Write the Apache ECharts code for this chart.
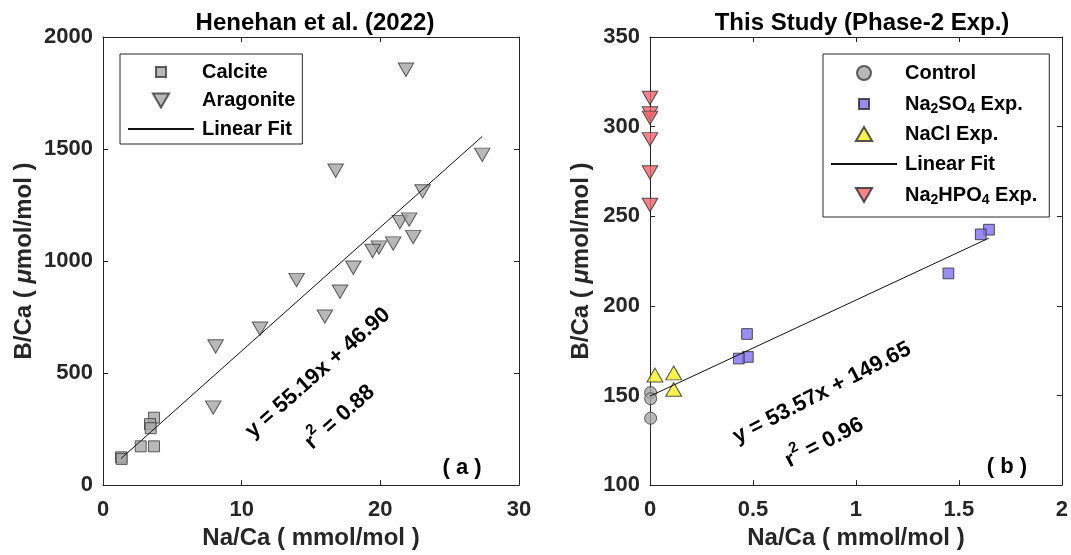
<!DOCTYPE html>
<html><head><meta charset="utf-8">
<script src="https://cdn.jsdelivr.net/npm/echarts@6/dist/echarts.min.js"></script>
<style>html,body{margin:0;padding:0;background:#fff}#c{width:1071px;height:555px}</style>
</head><body><div id="c"></div>
<script>
// ---- Data ----
const calciteX = [3.68, 3.39, 3.44, 2.72, 3.68, 1.30, 1.35];
const calciteY = [301, 272, 254, 173, 173, 124, 117];
const aragoniteX = [21.85, 27.35, 16.78, 23.05, 21.41, 22.08, 22.37, 20.93, 19.90, 19.44, 18.05, 13.96, 17.09, 16.00, 11.32, 8.12, 7.95];
const aragoniteY = [1854, 1474, 1403, 1311, 1174, 1185, 1107, 1078, 1060, 1045, 970, 915, 863, 752, 698, 619, 346];
const fitA = {slope: 55.19, intercept: 46.90, xRange: [1.3, 27.35]};

const controlX = [0.003, 0.003, 0.003];
const controlY = [151.6, 148.2, 137.3];
const so4X = [1.646, 1.606, 1.449, 0.471, 0.475, 0.431];
const so4Y = [242.5, 239.9, 218.1, 184.3, 171.5, 170.6];
const naclX = [0.024, 0.115, 0.115];
const naclY = [161.4, 162.6, 153.4];
const hpo4X = [0, 0, 0, 0, 0, 0];
const hpo4Y = [316.0, 307.3, 304.9, 292.9, 274.4, 256.3];
const fitB = {slope: 53.57, intercept: 149.65, xRange: [0, 1.645]};

const xTicksA = {min: 0, max: 30, interval: 10};
const yTicksA = {min: 0, max: 2000, interval: 500};
const xTicksB = {min: 0, max: 2, interval: 0.5};
const yTicksB = {min: 100, max: 350, interval: 50};

// ---- Helpers ----
const zip = (xs, ys) => xs.map((x, i) => [x, ys[i]]);
const fitLine = f => f.xRange.map(x => [x, f.slope * x + f.intercept]);
const FONT = '"Liberation Sans", Arial, sans-serif';
const AX = '#262626';
// symbols as paths (bounding box padded with move-to points so legend icons keep a sensible size)
const SQUARE = 'path://M-2,-2M12,12M0,0L10,0L10,10L0,10Z';
const DOWN_TRI = 'path://M0,0L10,0L5,8.66Z';
const UP_TRI = 'path://M5,0L10,8.66L0,8.66Z';

function axisPair(gridIndex, t, isX, name, nameGap) {
  const main = {
    type: 'value', gridIndex, min: t.min, max: t.max, interval: t.interval,
    position: isX ? 'bottom' : 'left',
    axisLine: {show: true, onZero: false, lineStyle: {color: AX, width: 1}},
    axisTick: {show: true, inside: true, length: 5, lineStyle: {color: AX}},
    axisLabel: {color: AX, fontFamily: FONT, fontWeight: 'bold', fontSize: 22, margin: isX ? 14 : 10,
      formatter: v => String(v)},
    splitLine: {show: false},
    name: name, nameLocation: 'middle', nameGap: nameGap,
    nameTextStyle: {color: AX, fontFamily: FONT, fontWeight: 'bold', fontSize: 24,
      rich: {i: {fontStyle: 'italic', fontWeight: 'bold', fontFamily: FONT, fontSize: 24, color: AX}}}
  };
  const opp = {
    type: 'value', gridIndex, min: t.min, max: t.max, interval: t.interval,
    position: isX ? 'top' : 'right',
    axisLine: {show: true, onZero: false, lineStyle: {color: AX, width: 1}},
    axisTick: {show: true, inside: true, length: 5, lineStyle: {color: AX}},
    axisLabel: {show: false}, splitLine: {show: false}
  };
  return [main, opp];
}

const chart = echarts.init(document.getElementById('c'));
const subFmt = name => name.replace(/Na2/g, 'Na{s|2}').replace(/O4/g, 'O{s|4}');

const legendText = (lh) => ({
  color: '#000', fontFamily: FONT, fontWeight: 'bold', fontSize: 20, lineHeight: lh, padding: [0, 0, 0, 3],
  rich: {s: {fontFamily: FONT, fontWeight: 'bold', fontSize: 14, lineHeight: lh, verticalAlign: 'bottom', padding: [11, 0, 0, 0], color: '#000'}}
});

const option = {
  animation: false,
  backgroundColor: '#fff',
  grid: [
    {left: 103, top: 37, width: 416, height: 451},
    {left: 650, top: 37, width: 416, height: 451}
  ],
  xAxis: [
    ...axisPair(0, xTicksA, true, 'Na/Ca ( mmol/mol )', 35),
    ...axisPair(1, xTicksB, true, 'Na/Ca ( mmol/mol )', 35)
  ],
  yAxis: [
    ...axisPair(0, yTicksA, false, 'B/Ca ( {i|μ}mol/mol )', 67),
    ...axisPair(1, yTicksB, false, 'B/Ca ( {i|μ}mol/mol )', 57)
  ],
  legend: [
    {
      orient: 'vertical', left: 120, top: 54, padding: [8, 7, 5, 7],
      itemWidth: 66, itemHeight: 14, itemGap: 8.5,
      borderColor: AX, borderWidth: 1, backgroundColor: '#fff',
      data: ['Calcite', 'Aragonite', 'Linear Fit'],
      textStyle: legendText(20), selectedMode: false
    },
    {
      orient: 'vertical', left: 823, top: 54, padding: [7, 12, 10, 7],
      itemWidth: 66, itemHeight: 14, itemGap: 6,
      borderColor: AX, borderWidth: 1, backgroundColor: '#fff',
      data: ['Control', 'Na2SO4 Exp.', 'NaCl Exp.', 'Linear Fit ', 'Na2HPO4 Exp.'],
      formatter: subFmt,
      textStyle: legendText(24), selectedMode: false
    }
  ],
  series: [
    {name: 'Calcite', type: 'scatter', xAxisIndex: 0, yAxisIndex: 0, symbol: SQUARE, symbolSize: 15.4,
      itemStyle: {color: '#a6a6a6', borderColor: '#3a3a3a', borderWidth: 1}, data: zip(calciteX, calciteY)},
    {name: 'Aragonite', type: 'scatter', xAxisIndex: 0, yAxisIndex: 0, symbol: DOWN_TRI, symbolSize: [15.5, 13.4],
      itemStyle: {color: '#a6a6a6', borderColor: '#3a3a3a', borderWidth: 1}, data: zip(aragoniteX, aragoniteY)},
    {name: 'Linear Fit', type: 'line', xAxisIndex: 0, yAxisIndex: 0, symbol: 'none', showSymbol: false,
      itemStyle: {color: '#111', opacity: 0},
      lineStyle: {color: '#111', width: 1}, data: fitLine(fitA), z: 5},

    {name: 'Control', type: 'scatter', xAxisIndex: 2, yAxisIndex: 2, symbol: 'circle', symbolSize: 12,
      itemStyle: {color: '#a6a6a6', borderColor: '#3a3a3a', borderWidth: 1}, data: zip(controlX, controlY)},
    {name: 'Na2SO4 Exp.', type: 'scatter', xAxisIndex: 2, yAxisIndex: 2, symbol: SQUARE, symbolSize: 15,
      itemStyle: {color: '#8070f0', borderColor: '#2a2a2a', borderWidth: 1}, data: zip(so4X, so4Y)},
    {name: 'NaCl Exp.', type: 'scatter', xAxisIndex: 2, yAxisIndex: 2, symbol: UP_TRI, symbolSize: [16, 13.9],
      itemStyle: {color: '#f2f020', borderColor: '#2a2a2a', borderWidth: 1}, data: zip(naclX, naclY)},
    {name: 'Linear Fit ', type: 'line', xAxisIndex: 2, yAxisIndex: 2, symbol: 'none', showSymbol: false,
      itemStyle: {color: '#111', opacity: 0},
      lineStyle: {color: '#111', width: 1}, data: fitLine(fitB), z: 5},
    {name: 'Na2HPO4 Exp.', type: 'scatter', xAxisIndex: 2, yAxisIndex: 2, symbol: DOWN_TRI, symbolSize: [15.5, 13.4],
      itemStyle: {color: '#f2636e', borderColor: '#2a2a2a', borderWidth: 1}, data: zip(hpo4X, hpo4Y), z: 6}
  ],
  graphic: [
    {type: 'text', x: 315, y: 23.5, style: {text: 'Henehan et al. (2022)', font: 'bold 24px ' + FONT, fill: '#000', align: 'center', verticalAlign: 'middle'}},
    {type: 'text', x: 862, y: 23.5, style: {text: 'This Study (Phase-2 Exp.)', font: 'bold 24px ' + FONT, fill: '#000', align: 'center', verticalAlign: 'middle'}},
    {type: 'text', x: 318, y: 373, rotation: 41.5 * Math.PI / 180, z: 10,
      style: {text: 'y = 55.19x + 46.90', font: 'bold 22px ' + FONT, fill: '#000', align: 'center', verticalAlign: 'middle'}},
    {type: 'text', x: 338, y: 415, rotation: 41.5 * Math.PI / 180, z: 10,
      style: {text: '{a|r}{p|2}{a| = 0.88}', fill: '#000', align: 'center', verticalAlign: 'middle',
        rich: {a: {font: 'bold 22px ' + FONT, fill: '#000', verticalAlign: 'bottom', lineHeight: 28},
               p: {font: 'bold 15px ' + FONT, fill: '#000', verticalAlign: 'top', lineHeight: 28}}}},
    {type: 'text', x: 822, y: 393, rotation: 27.3 * Math.PI / 180, z: 10,
      style: {text: 'y = 53.57x + 149.65', font: 'bold 22px ' + FONT, fill: '#000', align: 'center', verticalAlign: 'middle'}},
    {type: 'text', x: 823, y: 440, rotation: 27.3 * Math.PI / 180, z: 10,
      style: {text: '{a|r}{p|2}{a| = 0.96}', fill: '#000', align: 'center', verticalAlign: 'middle',
        rich: {a: {font: 'bold 22px ' + FONT, fill: '#000', verticalAlign: 'bottom', lineHeight: 28},
               p: {font: 'bold 15px ' + FONT, fill: '#000', verticalAlign: 'top', lineHeight: 28}}}},
    {type: 'text', x: 462, y: 468, style: {text: '( a )', font: 'bold 22px ' + FONT, fill: '#000', align: 'center', verticalAlign: 'middle'}},
    {type: 'text', x: 1007, y: 467, style: {text: '( b )', font: 'bold 22px ' + FONT, fill: '#000', align: 'center', verticalAlign: 'middle'}}
  ]
};
chart.setOption(option);
</script>
</body></html>
